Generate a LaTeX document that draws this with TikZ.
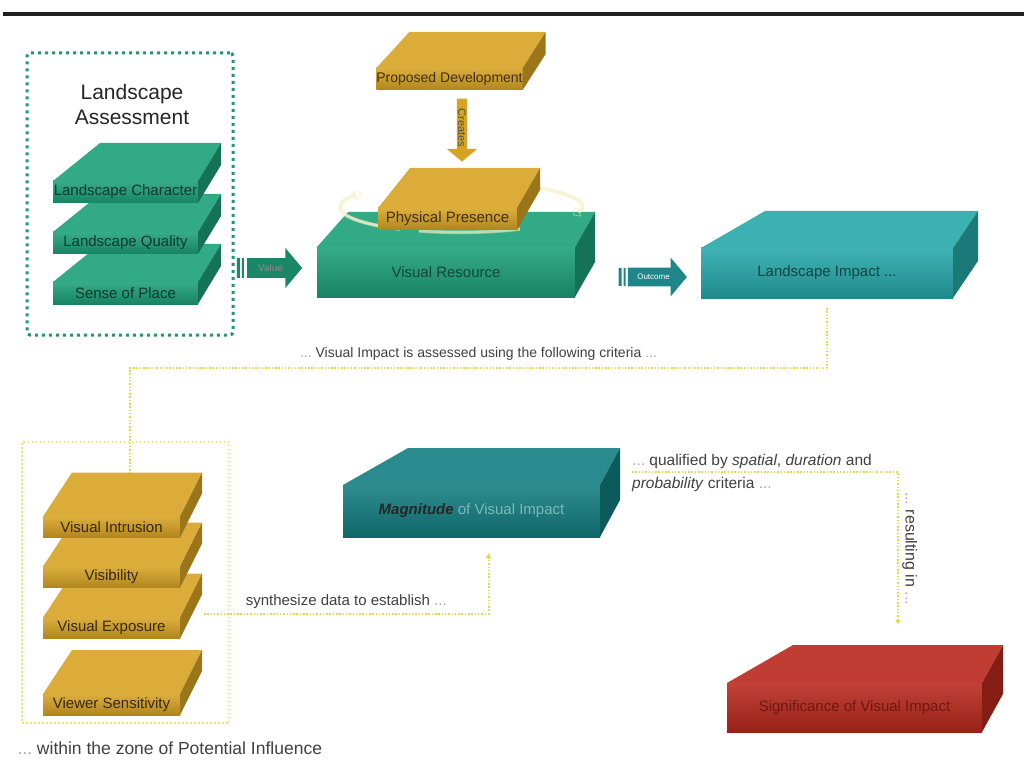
\documentclass[tikz,border=0pt]{standalone}
\usepackage{fontspec}
\setmainfont{Liberation Sans}
\usetikzlibrary{calc,shapes.arrows,arrows.meta}
\definecolor{lagreen}{RGB}{28,160,120}
\definecolor{lagold}{RGB}{215,163,35}
\definecolor{liteal}{RGB}{38,168,170}
\definecolor{magteal}{RGB}{18,125,128}
\definecolor{sigred}{RGB}{185,40,28}
\definecolor{dotyellow}{RGB}{232,216,72}
\definecolor{frameteal}{RGB}{32,150,115}
\definecolor{spinyellow}{RGB}{240,230,165}
\newcommand\fdots{\textcolor{black!35}{...}}
\newcommand\slabfaces[5]{%
  \fill[#5!90!white] (#1.north west) -- ++(#2,-#4) -- ($(#1.north east)+(#3,-#4)$) -- (#1.north east) -- cycle;
  \fill[#5!72!black] (#1.north east) -- ++(#3,-#4) -- ($(#1.south east)+(#3,-#4)$) -- (#1.south east) -- cycle;
}
\begin{document}
\begin{tikzpicture}[x=1pt, y=-1pt, line join=round,
  slab/.style={rectangle, inner sep=0pt, outer sep=0pt, top color=#1!88!white, bottom color=#1!82!black,
    font=\fontsize{15}{18}\selectfont},
  blockarrow/.style={single arrow, fill=#1, inner xsep=2pt, inner ysep=6pt, single arrow head extend=10pt,
    single arrow tip angle=100, font=\fontsize{10}{12}\selectfont},
  lagroup/.style={draw=frameteal, line width=3pt, dash pattern=on 3pt off 4pt, rounded corners=3pt, inner sep=0pt},
  zone/.style={draw=dotyellow!75!white, line width=2pt, dash pattern=on 1.5pt off 2.5pt, inner sep=0pt},
  criteria/.style={draw=dotyellow, line width=2pt, dash pattern=on 1.5pt off 1.8pt},
  note/.style={font=\fontsize{14}{23}\selectfont, text=black!75},
  spin/.style={draw=spinyellow, line width=.6pt, double=white!70!spinyellow, double distance=2.5pt, opacity=.6}]
\useasboundingbox (0,0) rectangle (1024,783);
\fill[black!88] (3,12) rectangle (1024,16);

\node[lagroup, minimum width=206, minimum height=282] (lsbox) at (130,194) {};
\node[font=\fontsize{21}{25}\selectfont, align=center, text=black!85] (lstitle) at (132,104) {Landscape\\Assessment};
\node[slab=lagreen, minimum width=145, minimum height=22, text=lagreen!35!black] (sp) at (125.5,293) {Sense of Place};
\slabfaces{sp}{47}{23}{38}{lagreen}
\node[slab=lagreen, minimum width=145, minimum height=22, text=lagreen!35!black] (lq) at (125.5,243) {Landscape Quality};
\slabfaces{lq}{47}{23}{38}{lagreen}
\node[slab=lagreen, minimum width=145, minimum height=22, text=lagreen!35!black] (lc) at (125.5,192) {Landscape Character};
\slabfaces{lc}{47}{23}{38}{lagreen}

\node[blockarrow=lagreen!85!black, minimum height=55, minimum width=40, text=white!55!black] (val) at (270.5,268) {Value};
\fill[lagreen!85!black] ($(val.west)+(-10,-10)$) rectangle ++(3,20) ($(val.west)+(-5,-10)$) rectangle ++(2,20);

\node[slab=lagreen, minimum width=258, minimum height=50, text=lagreen!45!black] (vr) at (446,272) {Visual Resource};
\slabfaces{vr}{31}{20}{35}{lagreen}
\draw[spin, -{Triangle[open, length=7pt, width=11pt]}] (400,229) arc[start angle=120, end angle=215, x radius=120, y radius=25];
\draw[spin, -{Triangle[open, length=7pt, width=11pt]}] (520,185) arc[start angle=300, end angle=380, x radius=120, y radius=25];
\draw[spin, opacity=.45] (520,229) arc[start angle=60, end angle=110, x radius=120, y radius=25];
\node[slab=lagold, minimum width=139, minimum height=22, text=lagold!30!black] (pp) at (447.5,219) {Physical Presence};
\slabfaces{pp}{32}{23}{40}{lagold}

\node[slab=lagold, minimum width=145, minimum height=22, text=lagold!30!black, font=\fontsize{14}{17}\selectfont] (pd) at (449.5,79) {Proposed Development};
\slabfaces{pd}{33}{23}{36}{lagold}
\node[blockarrow=lagold, rotate=-90, minimum height=63, minimum width=30, inner ysep=1pt,
  font=\fontsize{11}{13}\selectfont, text=black!70] (cre) at (462,128) {Creates};

\node[blockarrow=liteal!80!black, minimum height=59, minimum width=39, font=\fontsize{8}{10}\selectfont, text=white] (out) at (653.5,277) {Outcome};
\fill[liteal!80!black] ($(out.west)+(-9,-9)$) rectangle ++(3,18) ($(out.west)+(-4,-9)$) rectangle ++(2,18);
\node[slab=liteal, minimum width=252, minimum height=50, text=liteal!40!black] (li) at (827,273) {Landscape Impact ...};
\slabfaces{li}{64}{25}{37}{liteal}

\node[zone, minimum width=207, minimum height=281] (zonebox) at (125.5,582.5) {};
\node[slab=lagold, minimum width=137, minimum height=21, text=lagold!25!black] (vs) at (111.5,704.5) {Viewer Sensitivity};
\slabfaces{vs}{29}{22}{44}{lagold}
\node[slab=lagold, minimum width=137, minimum height=21, text=lagold!25!black] (ve) at (111.5,628) {Visual Exposure};
\slabfaces{ve}{29}{22}{44}{lagold}
\node[slab=lagold, minimum width=137, minimum height=21, text=lagold!25!black] (vis) at (111.5,577) {Visibility};
\slabfaces{vis}{29}{22}{44}{lagold}
\node[slab=lagold, minimum width=137, minimum height=21, text=lagold!25!black] (vi) at (111.5,527) {Visual Intrusion};
\slabfaces{vi}{29}{22}{44}{lagold}
\node[note, anchor=west, font=\fontsize{17.5}{21}\selectfont] (zonenote) at (14,748) {\fdots\ within the zone of Potential Influence};

\node[slab=magteal, minimum width=257, minimum height=52] (mag) at (471.5,511)
  {\textcolor{black!85}{\bfseries\itshape Magnitude} \textcolor{magteal!55!white}{of Visual Impact}};
\slabfaces{mag}{65}{20}{37}{magteal}

\node[slab=sigred, minimum width=255, minimum height=49, text=sigred!60!black] (sig) at (854.5,707.5) {Significance of Visual Impact};
\slabfaces{sig}{66}{21}{38}{sigred}

\coordinate (vitop) at ($(vi.north)+(18.5,-44)$);
\coordinate (magin) at ($(mag.south)+(17,16)$);
\coordinate (qstart) at ($(mag.north east)+(32,-13)$);
\coordinate (sigin) at ($(sig.north)+(43.5,-58)$);

\draw[criteria, shorten <=10pt] (li.south) -- ++(0,70) -| (vitop)
  node[note, pos=.25, above=3pt] {\fdots\ Visual Impact is assessed using the following criteria \fdots};
\draw[criteria, -{Latex[length=5pt, width=6pt]}] ($(ve.north east)+(24,-4)$) -| (magin)
  node[note, pos=.25, above=1pt, font=\fontsize{15}{18}\selectfont] {synthesize data to establish \fdots};
\draw[criteria, -{Latex[length=5pt, width=6pt]}] (qstart) -| (sigin)
  node[note, pos=.75, rotate=-90, anchor=south, font=\fontsize{16}{19}\selectfont] {\fdots\ resulting in \fdots};
\node[note, anchor=west, align=left, inner sep=0pt, font=\fontsize{15.5}{23}\selectfont] (qual) at ($(qstart)+(0,1)$)
  {\fdots\ qualified by \textit{spatial}, \textit{duration} and\\\textit{probability} criteria \fdots};
\end{tikzpicture}
\end{document}
